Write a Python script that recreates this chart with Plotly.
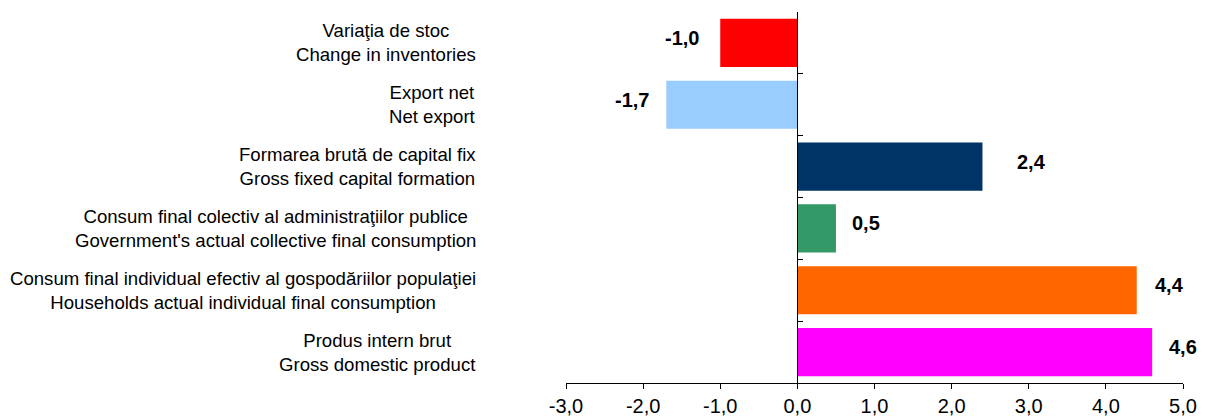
import plotly.graph_objects as go

labels_ro = ["Produs intern brut",
             "Consum final individual efectiv al gospodăriilor populaţiei",
             "Consum final colectiv al administraţiilor publice",
             "Formarea brută de capital fix",
             "Export net",
             "Variaţia de stoc"]
labels_en = ["Gross domestic product",
             "Households actual individual final consumption",
             "Government's actual collective final consumption",
             "Gross fixed capital formation",
             "Net export",
             "Change in inventories"]
values = [4.6, 4.4, 0.5, 2.4, -1.7, -1.0]
colors = ["#FF00FF", "#FF6600", "#339966", "#003366", "#99CCFF", "#FF0000"]
x_ticks = [-3, -2, -1, 0, 1, 2, 3, 4, 5]

# styling: horizontal gap (px) between each bar end and its value label
label_gap = [16, 17, 15, 34, 16, 20]

# page body has an 8px default margin, compensate
OFF = 8
W, H = 1206 - OFF, 416 - OFF
ML, MR, MT, MB = 566 - OFF, 23, 12 - OFF, 33
plot_w = W - ML - MR

ypos = list(range(len(values)))

fig = go.Figure()
fig.add_trace(go.Bar(
    x=values, y=ypos, orientation="h",
    marker=dict(color=colors, line=dict(width=0)),
    width=0.78, hoverinfo="skip", showlegend=False,
))

fmt = lambda v: f"{v:.1f}".replace(".", ",")

annotations = []
for i, v in enumerate(values):
    annotations.append(dict(
        x=v, y=i, xref="x", yref="y", text=f"<b>{fmt(v)}</b>",
        showarrow=False, xanchor="left" if v >= 0 else "right",
        xshift=label_gap[i] if v >= 0 else -label_gap[i], yshift=5,
        borderpad=0,
        font=dict(family="Liberation Sans, Arial, sans-serif", size=20, color="#000000"),
    ))
    annotations.append(dict(
        x=(478 - 566) / plot_w, y=i, xref="paper", yref="y",
        text=f"{labels_ro[i]}<br>{labels_en[i]}",
        showarrow=False, xanchor="right", align="center",
        font=dict(family="Liberation Sans, Arial, sans-serif", size=18.6, color="#000000"),
    ))

fig.update_layout(
    template="none",
    width=W, height=H,
    margin=dict(l=ML, r=MR, t=MT, b=MB, pad=0, autoexpand=False),
    paper_bgcolor="white", plot_bgcolor="white",
    annotations=annotations,
    xaxis=dict(
        range=[-3, 5], tickvals=x_ticks, ticktext=[fmt(t) for t in x_ticks],
        showgrid=False, zeroline=False, showline=True, linecolor="#000000", linewidth=1,
        ticks="outside", ticklen=5, tickcolor="#000000", tickwidth=1,
        tickfont=dict(family="Liberation Sans, Arial, sans-serif", size=20, color="#000000"),
        automargin=False, fixedrange=True,
    ),
    yaxis=dict(
        range=[-0.5, len(values) - 0.5],
        tickvals=[k - 0.5 for k in range(len(values) + 1)],
        showticklabels=False, showgrid=False, zeroline=False,
        showline=True, linecolor="#000000", linewidth=1,
        ticks="inside", ticklen=5, tickcolor="#000000", tickwidth=1,
        anchor="free", position=3 / 8,
        automargin=False, fixedrange=True,
    ),
)

fig.write_html("out.html")
